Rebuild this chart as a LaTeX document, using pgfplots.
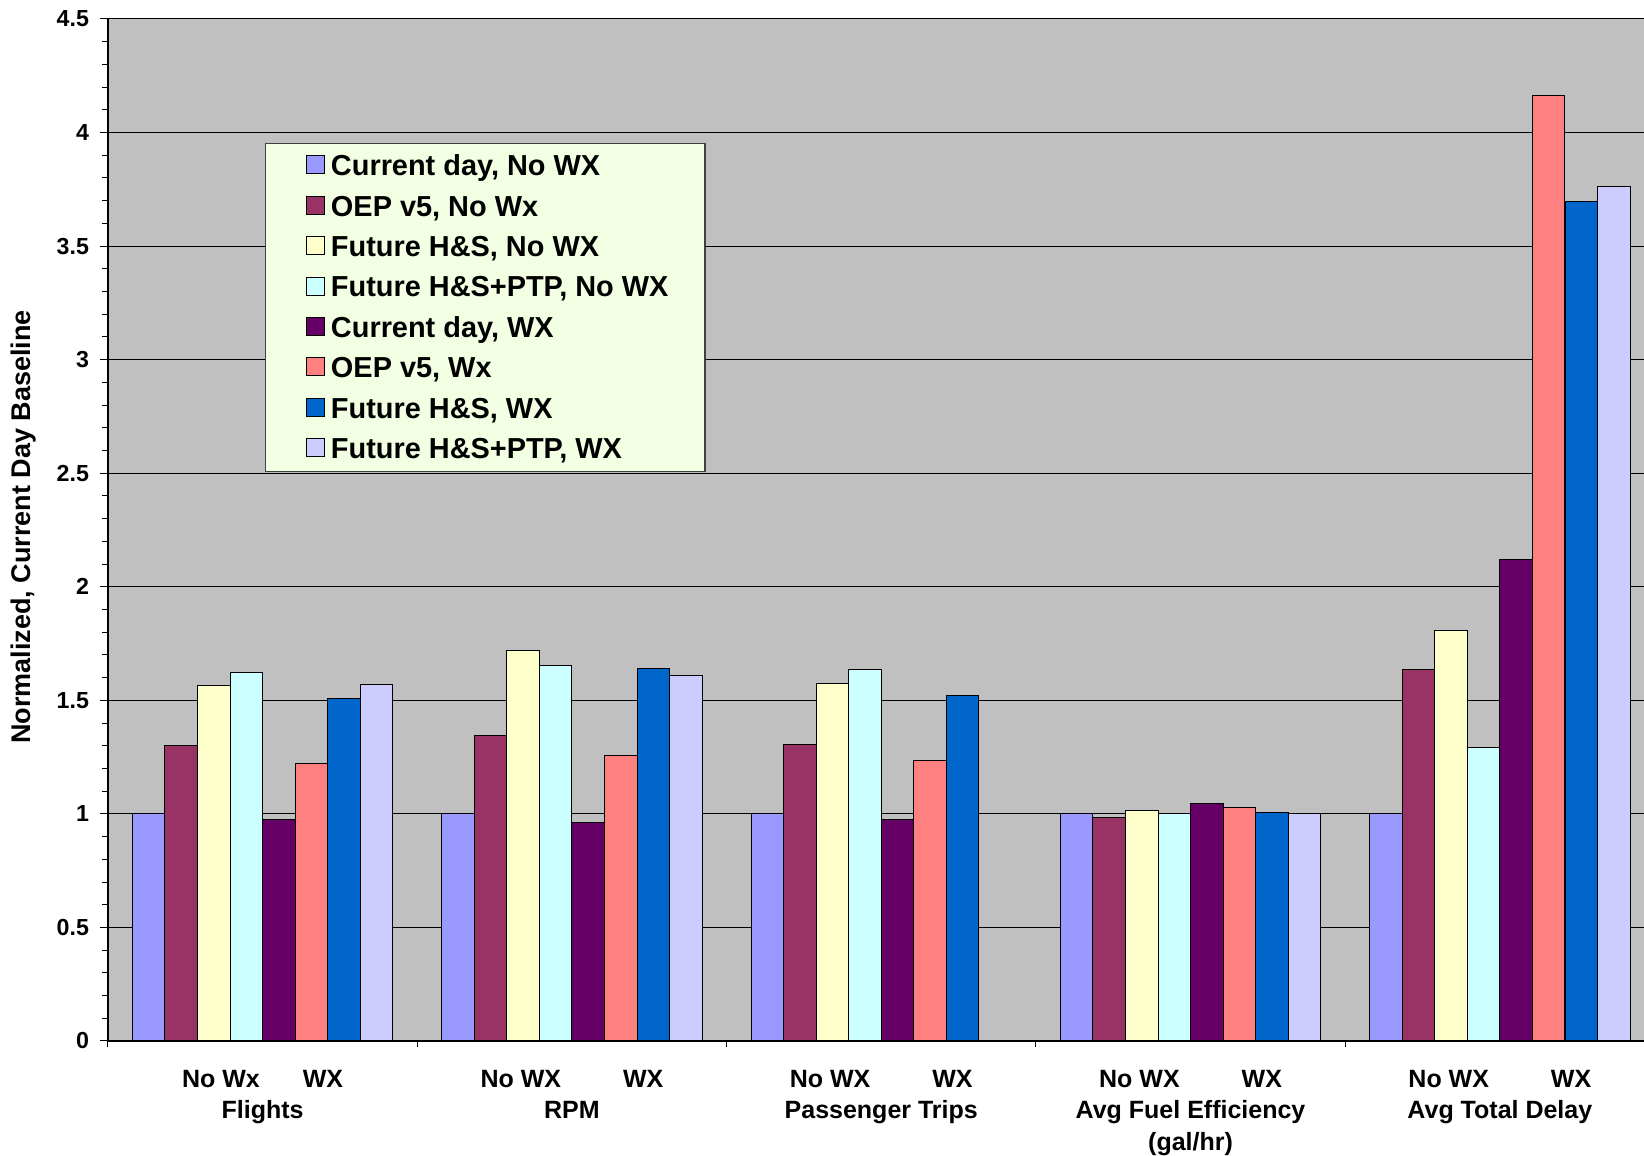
\documentclass[border=0pt]{standalone}
\usepackage{pgfplots}
\usepackage{pgfplotstable}
\pgfplotsset{compat=1.18}
\usepackage{fontspec}
\setmainfont{Liberation Sans}

\definecolor{cNoCur}{HTML}{9999FF}
\definecolor{cNoOEP}{HTML}{993366}
\definecolor{cNoHS}{HTML}{FFFFCC}
\definecolor{cNoPTP}{HTML}{CCFFFF}
\definecolor{cWxCur}{HTML}{660066}
\definecolor{cWxOEP}{HTML}{FF8080}
\definecolor{cWxHS}{HTML}{0066CC}
\definecolor{cWxPTP}{HTML}{CCCCFF}
\definecolor{plotbg}{HTML}{C0C0C0}
\definecolor{legendbg}{HTML}{F2FFE2}

% normalized metrics, one row per metric group (x = group centre)
\pgfplotstableread{
x    curno  oepno  hsno   ptpno  curwx  oepwx  hswx   ptpwx
0.5  1.000  1.300  1.564  1.623  0.977  1.220  1.509  1.569
1.5  1.000  1.347  1.719  1.653  0.964  1.258  1.641  1.611
2.5  1.000  1.306  1.575  1.634  0.977  1.233  1.520  nan
3.5  1.000  0.983  1.017  1.000  1.047  1.030  1.006  1.000
4.5  1.000  1.634  1.808  1.294  2.121  4.164  3.696  3.762
}\datatable

\pgfplotsset{
  sqlegend/.style={legend image code/.code={%
      \path[draw=none,fill=none] (0pt,0pt) -- (14.25pt,0pt);
      \draw[##1,draw=black,line width=0.5pt] (4.2pt,-4pt) rectangle (13.2pt,5pt);}},
  barstyle/.style={draw=black, line width=0.5pt, sqlegend},
}

\begin{document}
\begin{tikzpicture}
\begin{axis}[
  scale only axis, width=768pt, height=511pt,
  at={(0,0)}, anchor=south west,
  xmin=0, xmax=4.966, ymin=0, ymax=4.5,
  axis x line*=bottom, axis y line*=left,
  axis line style={black, line width=0.6pt},
  axis background/.style={fill=plotbg},
  ybar, bar width=0.10526,
  ytick={0,0.5,...,4.5}, minor y tick num=4,
  ymajorgrids, major grid style={black, line width=0.5pt},
  tick align=outside, major tick length=4pt, minor tick length=3pt,
  tick style={black, line width=0.5pt},
  /pgf/number format/assume math mode=true,
  yticklabel style={font=\fontsize{11.6}{13}\selectfont\bfseries, xshift=-2pt},
  xtick={0.5,1.5,2.5,3.5,4.5},
  minor xtick={0,1,2,3,4},
  major x tick style={draw=none},
  xticklabels={
    {No Wx\hspace{21.5pt}WX\\Flights},
    {No WX\hspace{31pt}WX\\RPM},
    {No WX\hspace{31pt}WX\\Passenger Trips},
    {No WX\hspace{31pt}WX\\Avg Fuel Efficiency\\(gal/hr)},
    {No WX\hspace{31pt}WX\\Avg Total Delay}},
  xticklabel style={align=center, font=\fontsize{12.5}{15.7}\selectfont\bfseries, yshift=-7pt},
  ylabel={Normalized, Current Day Baseline},
  ylabel style={at={(axis description cs:-0.0553,0.503)}, anchor=center,
    font=\fontsize{13.5}{15}\selectfont\bfseries},
  legend cell align=left,
  legend style={at={(0.1024,0.879)}, anchor=north west,
    fill=legendbg, draw=black!75, line width=0.6pt,
    inner xsep=16pt, inner ysep=1.2pt, row sep=0pt,
    font=\fontsize{14.45}{16}\selectfont\bfseries,
    nodes={text height=15pt, text depth=5.2pt, inner ysep=0pt, inner xsep=2.3pt}},
]
\addplot[barstyle, fill=cNoCur, bar shift=-0.3684] table[x=x,y=curno]{\datatable};
\addplot[barstyle, fill=cNoOEP, bar shift=-0.2632] table[x=x,y=oepno]{\datatable};
\addplot[barstyle, fill=cNoHS,  bar shift=-0.1579] table[x=x,y=hsno]{\datatable};
\addplot[barstyle, fill=cNoPTP, bar shift=-0.0526] table[x=x,y=ptpno]{\datatable};
\addplot[barstyle, fill=cWxCur, bar shift=0.0526]  table[x=x,y=curwx]{\datatable};
\addplot[barstyle, fill=cWxOEP, bar shift=0.1579]  table[x=x,y=oepwx]{\datatable};
\addplot[barstyle, fill=cWxHS,  bar shift=0.2632]  table[x=x,y=hswx]{\datatable};
\addplot[barstyle, fill=cWxPTP, bar shift=0.3684]  table[x=x,y=ptpwx]{\datatable};
\legend{{Current day, No WX}, {OEP v5, No Wx}, {Future H\&S, No WX},
  {Future H\&S+PTP, No WX}, {Current day, WX}, {OEP v5, Wx},
  {Future H\&S, WX}, {Future H\&S+PTP, WX}}
\end{axis}
\pgfresetboundingbox
\path[use as bounding box] (-54pt,-57.5pt) rectangle (768pt,520.5pt);
\end{tikzpicture}
\end{document}
